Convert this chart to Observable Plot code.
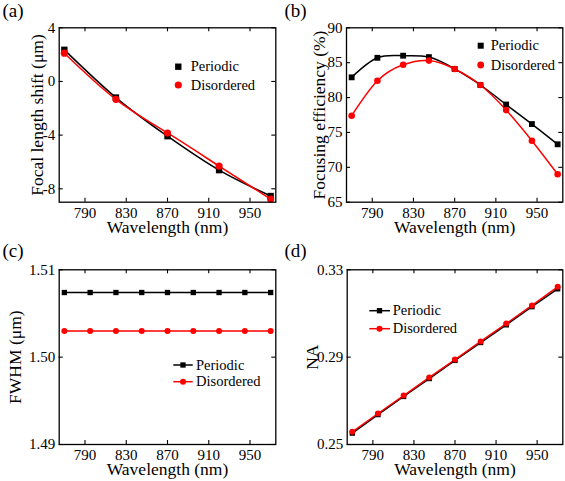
<!DOCTYPE html>
<html><head><meta charset="utf-8">
<script src="https://cdn.jsdelivr.net/npm/d3@7"></script>
<script src="https://cdn.jsdelivr.net/npm/@observablehq/plot@0.6"></script>
<style>
body{margin:0;background:#fff;}
#wrap{position:relative;width:565px;height:481px;overflow:hidden;background:#fff;}
.panel{position:absolute;}
.panel svg text{font-family:"Liberation Serif","Times New Roman",serif;}
</style></head><body><div id="wrap"></div>
<script>
// ---- data ----
const seriesNames = ["Periodic", "Disordered"];
const wlA = [770, 820, 870, 920, 970];
const shiftPeriodic = [2.36, -1.20, -4.08, -6.61, -8.54];
const shiftDisordered = [2.11, -1.33, -3.84, -6.31, -8.77];
const wl = [770, 795, 820, 845, 870, 895, 920, 945, 970];
const effPeriodic = [82.9, 85.7, 86.0, 85.8, 84.1, 81.8, 79.0, 76.2, 73.3];
const effDisordered = [77.4, 82.4, 84.7, 85.3, 84.1, 81.8, 78.2, 73.8, 69.0];
const fwhmPeriodic = [1.5074, 1.5074, 1.5074, 1.5074, 1.5074, 1.5074, 1.5074, 1.5074, 1.5074];
const fwhmDisordered = [1.5030, 1.5030, 1.5030, 1.5030, 1.5030, 1.5030, 1.5030, 1.5030, 1.5030];
const naPeriodic = [0.2552, 0.2637, 0.2720, 0.2802, 0.2885, 0.2967, 0.3048, 0.3131, 0.3213];
const naDisordered = [0.2558, 0.2642, 0.2724, 0.2807, 0.2889, 0.2972, 0.3054, 0.3137, 0.3222];
const xTicks = [790, 830, 870, 910, 950];
const yTicksA = [4, 0, -4, -8];
const yTicksB = [65, 70, 75, 80, 85, 90];
const yTicksC = [1.49, 1.50, 1.51];
const yTicksD = [0.25, 0.29, 0.33];
const xTitle = "Wavelength (nm)";

function rows(xs, a, b) {
  return [
    ...xs.map((x, i) => ({x, y: a[i], series: seriesNames[0]})),
    ...xs.map((x, i) => ({x, y: b[i], series: seriesNames[1]}))
  ];
}

const FONT = "'Liberation Serif', 'Times New Roman', serif";
const wrap = document.getElementById("wrap");

function panel(o) {
  const fw = o.width - o.mL - o.mR, fh = o.height - o.mT - o.mB;
  const T = 4;
  const svg = Plot.plot({
    width: o.width, height: o.height,
    marginLeft: o.mL, marginRight: o.mR, marginTop: o.mT, marginBottom: o.mB,
    style: {fontFamily: FONT, fontSize: "15px", color: "black", background: "white", overflow: "visible"},
    x: {domain: [765, 975]},
    y: {domain: o.yDomain},
    color: {domain: seriesNames, range: ["black", "red"]},
    symbol: {domain: seriesNames, range: ["square", "circle"]},
    marks: [
      Plot.line(o.data, {x: "x", y: "y", stroke: "series", curve: o.curve, strokeWidth: 1.5}),
      Plot.dot(o.data, {x: "x", y: "y", fill: "series", symbol: "series", r: o.r, stroke: "none"}),
      Plot.ruleX(xTicks, {x: d => d, insetTop: fh - T, stroke: "black", strokeWidth: 1.1}),
      Plot.ruleX(xTicks, {x: d => d, insetBottom: fh - T, stroke: "black", strokeWidth: 1.1}),
      Plot.ruleY(o.yTicks, {y: d => d, insetRight: fw - T, stroke: "black", strokeWidth: 1.1}),
      Plot.ruleY(o.yTicks, {y: d => d, insetLeft: fw - T, stroke: "black", strokeWidth: 1.1}),
      Plot.frame({stroke: "black", strokeWidth: 1.3}),
      Plot.axisX({ticks: xTicks, tickSize: 0, tickPadding: 5, label: null, fontSize: 15, tickFormat: d => String(d)}),
      Plot.axisY({ticks: o.yTicks, tickSize: 0, tickPadding: 4, label: null, fontSize: 15, tickFormat: o.yFormat}),
      Plot.text([xTitle], {text: d => d, frameAnchor: "bottom", textAnchor: "middle", lineAnchor: "top", dy: 18.5, fontSize: 17.5}),
      Plot.text([o.yTitle], {text: d => d, frameAnchor: "left", textAnchor: "middle", rotate: -90, lineAnchor: "middle", dx: o.yTitleDx, fontSize: 17.5}),
      Plot.text([o.label], {text: d => d, frameAnchor: "top-left", textAnchor: "start", lineAnchor: "top", dx: 2 - o.mL, dy: o.labelDy, fontSize: 19})
    ]
  });
  // legend
  const g = d3.select(svg).append("g").attr("text-anchor", "start");
  const colors = ["black", "red"];
  const syms = [d3.symbolSquare, d3.symbolCircle];
  o.legend.ys.forEach((y, i) => {
    if (o.legend.line) {
      g.append("line").attr("x1", o.legend.x1).attr("x2", o.legend.x2).attr("y1", y).attr("y2", y)
        .attr("stroke", colors[i]).attr("stroke-width", 1.5);
    }
    g.append("path").attr("d", d3.symbol(syms[i], Math.PI * o.legend.r * o.legend.r)())
      .attr("transform", `translate(${o.legend.mx},${y})`).attr("fill", colors[i]);
    g.append("text").attr("x", o.legend.tx).attr("y", y).attr("dy", "0.32em")
      .style("font-family", FONT).style("font-size", "14.5px")
      .attr("text-anchor", "start").attr("fill", "black").text(seriesNames[i]);
  });
  const div = document.createElement("div");
  div.className = "panel";
  div.style.left = o.left + "px";
  div.style.top = o.top + "px";
  div.appendChild(svg);
  wrap.appendChild(div);
}

panel({
  left: 0, top: 0, width: 282, height: 240, mL: 58.7, mR: 6.7, mT: 27.3, mB: 38.3,
  yDomain: [-9, 4], yTicks: yTicksA, yFormat: d => String(d),
  yTitle: "Focal length shift (μm)", yTitleDx: -22, label: "(a)", labelDy: -24.1,
  data: rows(wlA, shiftPeriodic, shiftDisordered), curve: "natural", r: 3.6,
  legend: {ys: [66.7, 85], mx: 178.3, tx: 190.7, r: 3.6, line: false}
});
panel({
  left: 282, top: 0, width: 283, height: 240, mL: 64, mR: 2.7, mT: 27.3, mB: 38.3,
  yDomain: [65, 90], yTicks: yTicksB, yFormat: d => String(d),
  yTitle: "Focusing efficiency (%)", yTitleDx: -27, label: "(b)", labelDy: -24.1,
  data: rows(wl, effPeriodic, effDisordered), curve: "natural", r: 3.3,
  legend: {ys: [45.7, 65], mx: 198.7, tx: 208.7, r: 3.4, line: false}
});
panel({
  left: 0, top: 240, width: 282, height: 241, mL: 58.7, mR: 6.7, mT: 29.3, mB: 37,
  yDomain: [1.49, 1.51], yTicks: yTicksC, yFormat: d3.format(".2f"),
  yTitle: "FWHM (μm)", yTitleDx: -43.4, label: "(c)", labelDy: -26.8,
  data: rows(wl, fwhmPeriodic, fwhmDisordered), curve: "linear", r: 3,
  legend: {ys: [125, 141.7], x1: 173.3, x2: 192.7, mx: 183, tx: 196, r: 3, line: true}
});
panel({
  left: 282, top: 240, width: 283, height: 241, mL: 64.7, mR: 2.7, mT: 29.3, mB: 37,
  yDomain: [0.25, 0.33], yTicks: yTicksD, yFormat: d3.format(".2f"),
  yTitle: "NA", yTitleDx: -35, label: "(d)", labelDy: -26.8,
  data: rows(wl, naPeriodic, naDisordered), curve: "linear", r: 3,
  legend: {ys: [70.7, 88.7], x1: 87.3, x2: 108, mx: 97.5, tx: 110.7, r: 3, line: true}
});
</script></body></html>
